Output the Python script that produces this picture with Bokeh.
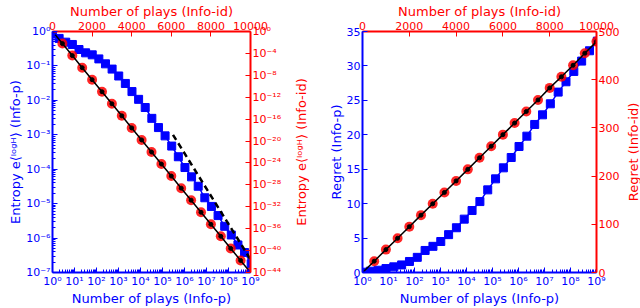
from bokeh.plotting import figure
from bokeh.models import (Range1d, LinearAxis, LogAxis, LogScale, LinearScale,
                          FixedTicker, CustomJSTickFormatter)
from bokeh.layouts import row
from bokeh.embed import file_html
from bokeh.resources import INLINE

# ---------------- data ----------------
plays_p = [1, 2, 4, 8, 16, 32, 64, 128, 256, 512, 1024, 2048, 4096, 8192, 16384,
           32768, 65536, 131072, 262144, 524288, 1048576, 2097152, 4194304,
           8388608, 16777216, 33554432, 67108864, 134217728, 268435456,
           536870912, 1073741824]
entropy_p = [0.85, 0.63, 0.49, 0.42, 0.30, 0.24, 0.21, 0.16, 0.115, 0.081, 0.051,
             0.031, 0.018, 0.0107, 0.0062, 0.0030, 0.00162, 9.3e-4, 4.7e-4,
             2.3e-4, 1.12e-4, 6.0e-5, 3.2e-5, 1.48e-5, 8.3e-6, 4.5e-6, 2.2e-6,
             1.23e-6, 6.3e-7, 3.8e-7, 1.8e-7]
regret_p = [0.04, 0.19, 0.33, 0.57, 0.82, 1.1, 1.6, 2.2, 3.2, 3.8, 4.5, 5.5, 6.5,
            7.75, 9.0, 10.3, 12.0, 13.6, 15.2, 16.7, 18.3, 19.8, 21.5, 22.9, 24.5,
            26.2, 27.7, 29.2, 30.7, 32.2, 33.6]

plays_id = [500, 1000, 1500, 2000, 2500, 3000, 3500, 4000, 4500, 5000, 5500, 6000,
            6500, 7000, 7500, 8000, 8500, 9000, 9500, 10000]
entropy_id = [6.3e-3, 4.0e-5, 2.5e-7, 1.6e-9, 1e-11, 6.3e-14, 4e-16, 2.5e-18,
              1.6e-20, 1e-22, 6.3e-25, 4e-27, 2.5e-29, 1.6e-31, 1e-33, 6.3e-36,
              4e-38, 2.5e-40, 1.6e-42, 1e-44]
regret_id = [23.5, 47.5, 71, 95, 119, 142.5, 166, 190, 214, 238, 262, 286, 310,
             334, 358, 383, 406, 430, 455, 479]

# theory lines (start of the Info-id curve and 1/n guide)
line_id_start_x = [0]
line_id_start_entropy = [1.0]
line_id_start_regret = [0.0]
guide_x = [3e5, 1e9]
guide_y = [1e-3, 2.4e-7]

BLUE = "#0000ff"
RED = "#ff0000"
FONT = "DejaVu Sans"
ENTROPY_P_LABEL = "Entropy e\u27e8\u02e1\u1d52\u1d4d\u1d34\u27e9 (Info-p)"
ENTROPY_ID_LABEL = "Entropy e\u27e8\u02e1\u1d52\u1d4d\u1d34\u27e9 (Info-id)"

sup_js = """
const m = {'0':'\u2070','1':'\u00b9','2':'\u00b2','3':'\u00b3','4':'\u2074',
           '5':'\u2075','6':'\u2076','7':'\u2077','8':'\u2078','9':'\u2079','-':'\u207b'};
const e = Math.round(Math.log10(tick));
return '10' + String(e).split('').map(c => m[c]).join('');
"""


def style_axis(ax, color, label):
    ax.axis_label = label
    ax.axis_label_text_color = color
    ax.axis_label_text_font = FONT
    ax.axis_label_text_font_style = "normal"
    ax.axis_label_text_font_size = "13px"
    ax.axis_label_standoff = 0
    ax.major_label_text_color = color
    ax.major_label_text_font = FONT
    ax.major_label_text_font_size = "11px"
    ax.major_label_standoff = 2
    ax.axis_line_color = color
    ax.axis_line_width = 2
    ax.major_tick_line_color = color
    ax.minor_tick_line_color = color
    ax.major_tick_in = 5
    ax.major_tick_out = 0
    ax.minor_tick_in = 3
    ax.minor_tick_out = 0


def log_minor(lo, hi):
    out = []
    for e in range(lo, hi):
        for m in range(2, 10):
            out.append(m * 10.0 ** e)
    return out


def base_fig(width, y_type, y_range, bl, br):
    p = figure(width=width, height=308, x_axis_type="log", y_axis_type=y_type,
               x_range=Range1d(1, 1e9), y_range=y_range,
               output_backend="svg", toolbar_location=None,
               min_border_left=bl, min_border_right=br,
               min_border_top=29, min_border_bottom=35)
    p.xgrid.visible = False
    p.ygrid.visible = False
    p.outline_line_color = None
    p.background_fill_color = "white"
    p.border_fill_color = "white"
    return p


def label_strip(width, border_left, text):
    """Narrow strip that only carries a red, bottom-to-top axis title."""
    d = figure(width=width, height=308, x_range=Range1d(0, 1), y_range=Range1d(0, 1),
               x_axis_location=None, y_axis_location="left",
               output_backend="svg", toolbar_location=None,
               min_border_left=border_left, min_border_right=0,
               min_border_top=29, min_border_bottom=35)
    d.xgrid.visible = False
    d.ygrid.visible = False
    d.outline_line_color = None
    d.border_fill_color = "white"
    d.background_fill_color = "white"
    ax = d.yaxis[0]
    ax.ticker = FixedTicker(ticks=[])
    ax.axis_label = text
    ax.axis_label_text_color = RED
    ax.axis_label_text_font = FONT
    ax.axis_label_text_font_style = "normal"
    ax.axis_label_text_font_size = "13px"
    ax.axis_label_standoff = 0
    ax.axis_line_color = None
    ax.major_tick_line_color = None
    ax.minor_tick_line_color = None
    ax.major_tick_in = 0
    ax.major_tick_out = 0
    ax.minor_tick_in = 0
    ax.minor_tick_out = 0
    ax.major_label_text_font_size = "0px"
    ax.major_label_standoff = 0
    return d


# ---------------- left panel ----------------
p1 = base_fig(290, "log", Range1d(1e-7, 1), 52, 40)
p1.extra_x_ranges = {"top": Range1d(0, 10000)}
p1.extra_x_scales = {"top": LinearScale()}
p1.extra_y_ranges = {"right": Range1d(1e-44, 1)}
p1.extra_y_scales = {"right": LogScale()}

xb = p1.xaxis[0]
xb.ticker = FixedTicker(ticks=[10.0 ** e for e in range(0, 10)], minor_ticks=log_minor(0, 9))
xb.formatter = CustomJSTickFormatter(code=sup_js)
style_axis(xb, BLUE, "Number of plays (Info-p)")
yl = p1.yaxis[0]
yl.ticker = FixedTicker(ticks=[10.0 ** e for e in range(-7, 1)], minor_ticks=log_minor(-7, 0))
yl.formatter = CustomJSTickFormatter(code=sup_js)
style_axis(yl, BLUE, ENTROPY_P_LABEL)

xt = LinearAxis(x_range_name="top", ticker=FixedTicker(ticks=[0, 2000, 4000, 6000, 8000, 10000]))
style_axis(xt, RED, "Number of plays (Info-id)")
p1.add_layout(xt, "above")
yr = LogAxis(y_range_name="right",
             ticker=FixedTicker(ticks=[10.0 ** e for e in range(-44, 1, 4)]),
             formatter=CustomJSTickFormatter(code=sup_js))
style_axis(yr, RED, None)
p1.add_layout(yr, "right")

p1.line(plays_p, entropy_p, line_color=BLUE, line_width=1.5)
p1.scatter(plays_p, entropy_p, marker="square", size=8, fill_color=BLUE, line_color=BLUE)
p1.scatter(plays_id, entropy_id, x_range_name="top", y_range_name="right",
           size=10, fill_color=RED, fill_alpha=0.85, line_color=None)
p1.line(line_id_start_x + plays_id, line_id_start_entropy + entropy_id,
        x_range_name="top", y_range_name="right", line_color="black", line_width=1.5)
p1.scatter(plays_id, entropy_id, x_range_name="top", y_range_name="right",
           size=4, fill_color="black", line_color="black")
p1.line(guide_x, guide_y, line_color="black", line_width=2.5, line_dash="6 4")

d1 = label_strip(30, 18, ENTROPY_ID_LABEL)

# ---------------- right panel ----------------
p2 = base_fig(302, "linear", Range1d(0, 35), 42, 24)
p2.extra_x_ranges = {"top": Range1d(0, 10000)}
p2.extra_x_scales = {"top": LinearScale()}
p2.extra_y_ranges = {"right": Range1d(0, 500)}
p2.extra_y_scales = {"right": LinearScale()}

xb2 = p2.xaxis[0]
xb2.ticker = FixedTicker(ticks=[10.0 ** e for e in range(0, 10)], minor_ticks=log_minor(0, 9))
xb2.formatter = CustomJSTickFormatter(code=sup_js)
style_axis(xb2, BLUE, "Number of plays (Info-p)")
yl2 = p2.yaxis[0]
yl2.ticker = FixedTicker(ticks=[0, 5, 10, 15, 20, 25, 30, 35])
style_axis(yl2, BLUE, "Regret (Info-p)")

xt2 = LinearAxis(x_range_name="top", ticker=FixedTicker(ticks=[0, 2000, 4000, 6000, 8000, 10000]))
style_axis(xt2, RED, "Number of plays (Info-id)")
p2.add_layout(xt2, "above")
yr2 = LinearAxis(y_range_name="right", ticker=FixedTicker(ticks=[0, 100, 200, 300, 400, 500]))
style_axis(yr2, RED, None)
p2.add_layout(yr2, "right")

p2.line(plays_p, regret_p, line_color=BLUE, line_width=1.5)
p2.scatter(plays_p, regret_p, marker="square", size=8, fill_color=BLUE, line_color=BLUE)
p2.scatter(plays_id, regret_id, x_range_name="top", y_range_name="right",
           size=10, fill_color=RED, fill_alpha=0.85, line_color=None)
p2.line(line_id_start_x + plays_id, line_id_start_regret + regret_id,
        x_range_name="top", y_range_name="right", line_color="black", line_width=1.5)
p2.scatter(plays_id, regret_id, x_range_name="top", y_range_name="right",
           size=4, fill_color="black", line_color="black")

d2 = label_strip(18, 14, "Regret (Info-id)")

layout = row(p1, d1, p2, d2)
with open("out.html", "w", encoding="utf-8") as f:
    f.write(file_html(layout, INLINE))
